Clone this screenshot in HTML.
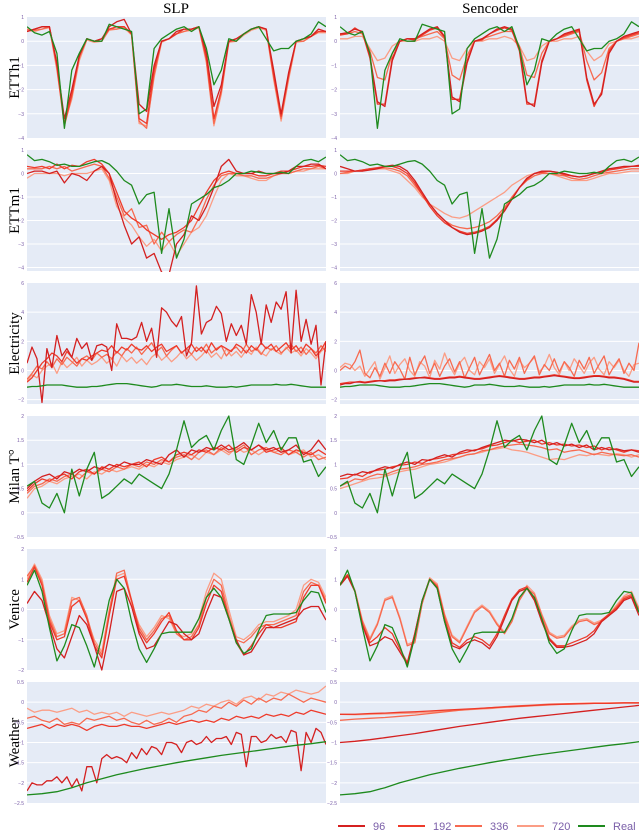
<!DOCTYPE html>
<html><head><meta charset="utf-8"><style>
body{margin:0;background:#fff;}
svg{display:block;font-family:"Liberation Serif",serif;}
</style></head><body>
<svg id="chart" width="640" height="831" viewBox="0 0 640 831" xmlns="http://www.w3.org/2000/svg">
<text x="176" y="13" text-anchor="middle" font-size="15">SLP</text>
<text x="490" y="13" text-anchor="middle" font-size="15">Sencoder</text>
<g id="panels"></g>
<g id="legend"></g>
</svg>
<script>
const horizons = ["96","192","336","720"];
const datasets = ["ETTh1","ETTm1","Electricity","Milan T°","Venice","Weather"];
const yRanges = [[-4,1],[-4.15,1],[-2.3,6],[-0.5,2],[-2,2],[-2.5,0.5]];
const yTicks = [[1,0,-1,-2,-3,-4],[1,0,-1,-2,-3,-4],[6,4,2,0,-2],[2,1.5,1,0.5,0,-0.5],[2,1,0,-1,-2],[0.5,0,-0.5,-1,-1.5,-2,-2.5]];
const yTickLabels = [["1","0","−1","−2","−3","−4"],["1","0","−1","−2","−3","−4"],["6","4","2","0","−2"],["2","1.5","1","0.5","0","−0.5"],["2","1","0","−1","−2"],["0.5","0","−0.5","−1","−1.5","−2","−2.5"]];

// ETTh1
const h1_real = [0.6,0.35,0.25,0.4,-0.5,-3.6,-1.2,-0.5,0.1,0.0,0.0,0.7,0.6,0.5,0.4,-3.0,-2.8,-0.3,0.1,0.3,0.5,0.6,0.4,0.6,-0.3,-1.8,-1.2,0.1,0.0,0.3,0.5,0.6,0.1,-0.4,-0.3,-0.3,0.0,0.1,0.3,0.8,0.6];
const h1_slp_96 = [0.4,0.5,0.6,0.6,-0.9,-3.2,-2.0,-0.6,0.1,0.0,0.1,0.6,0.8,0.9,0.3,-2.6,-2.9,-1.0,0.0,0.1,0.4,0.5,0.5,0.6,-0.5,-2.7,-1.8,0.0,0.1,0.3,0.5,0.6,0.5,-1.2,-3.0,-1.3,0.0,0.1,0.2,0.5,0.4];
const h1_slp_192 = [0.4,0.5,0.6,0.6,-1.0,-3.4,-2.2,-0.6,0.1,0.0,0.1,0.5,0.6,0.6,0.3,-3.2,-3.4,-1.2,0.0,0.1,0.3,0.5,0.5,0.6,-0.7,-3.2,-2.0,0.0,0.1,0.3,0.5,0.6,0.5,-1.4,-3.1,-1.4,0.0,0.1,0.2,0.4,0.4];
const h1_slp_336 = [0.5,0.45,0.5,0.6,-1.1,-3.5,-2.3,-0.7,0.1,0.0,0.0,0.5,0.5,0.6,0.3,-3.3,-3.6,-1.4,0.0,0.1,0.3,0.4,0.5,0.6,-0.8,-3.4,-2.1,0.0,0.0,0.3,0.5,0.6,0.5,-1.5,-3.2,-1.5,0.0,0.0,0.2,0.4,0.4];
const h1_slp_720 = [0.45,0.4,0.5,0.55,-1.2,-3.4,-2.4,-0.8,0.05,-0.05,0.0,0.45,0.5,0.55,0.25,-3.4,-3.5,-1.5,-0.05,0.1,0.3,0.4,0.45,0.55,-0.9,-3.5,-2.2,-0.05,0.0,0.25,0.45,0.55,0.45,-1.6,-3.3,-1.6,-0.05,0.0,0.2,0.35,0.35];
const h1_sen_96 = [0.3,0.35,0.5,0.4,-0.6,-2.5,-2.7,-0.8,0.0,0.1,0.1,0.3,0.5,0.6,0.2,-2.3,-2.5,-0.9,0.0,0.1,0.3,0.5,0.6,0.5,-0.3,-2.5,-2.7,-0.9,0.0,0.1,0.3,0.4,0.5,-1.5,-2.6,-2.2,-0.5,0.0,0.2,0.3,0.4];
const h1_sen_192 = [0.25,0.3,0.55,0.35,-0.7,-2.6,-2.6,-0.7,0.0,0.1,0.05,0.25,0.45,0.55,0.15,-2.4,-2.4,-0.8,0.0,0.05,0.3,0.45,0.55,0.45,-0.4,-2.6,-2.6,-0.8,0.0,0.1,0.25,0.35,0.45,-1.6,-2.7,-2.1,-0.4,0.0,0.15,0.25,0.35];
const h1_sen_336 = [0.3,0.3,0.4,0.3,-0.4,-1.5,-1.6,-0.5,0.0,0.1,0.1,0.2,0.3,0.4,0.1,-1.4,-1.6,-0.6,0.0,0.1,0.2,0.3,0.4,0.4,-0.2,-1.4,-1.5,-0.5,0.0,0.1,0.2,0.3,0.4,-0.8,-1.6,-1.3,-0.3,0.0,0.1,0.2,0.3];
const h1_sen_720 = [0.1,0.1,0.2,0.2,-0.3,-0.8,-0.7,-0.2,0.0,0.0,0.0,0.1,0.1,0.2,0.0,-0.7,-0.8,-0.3,0.0,0.0,0.1,0.1,0.2,0.1,-0.2,-0.8,-0.7,-0.2,0.0,0.0,0.1,0.1,0.2,-0.4,-0.8,-0.6,-0.1,0.0,0.1,0.1,0.2];

// ETTm1
const m1_real = [0.8,0.55,0.6,0.5,0.35,0.4,0.3,0.3,0.4,0.5,0.55,0.4,0.1,-0.3,-0.5,-1.3,-0.9,-0.8,-3.4,-1.5,-3.6,-2.8,-1.3,-1.1,-0.9,-0.6,-0.5,-0.3,0.0,0.0,0.1,0.05,0.0,0.0,0.05,0.0,0.3,0.55,0.6,0.5,0.7];
const m1_slp_96 = [0.0,0.1,0.1,0.0,0.1,-0.4,0.0,-0.1,-0.3,0.1,0.3,0.0,-1.2,-2.2,-3.0,-2.7,-3.6,-3.4,-4.2,-4.3,-3.0,-2.6,-1.8,-2.0,-1.4,-0.6,0.3,0.6,0.1,0.0,0.0,0.1,0.0,0.0,0.0,0.1,0.3,0.3,0.4,0.4,0.2];
const m1_slp_192 = [0.3,0.25,0.3,0.2,0.4,0.2,0.35,0.3,0.5,0.6,0.4,0.0,-0.8,-1.6,-1.9,-2.1,-2.4,-2.6,-2.8,-2.6,-2.5,-2.3,-2.0,-1.4,-0.8,-0.3,0.0,0.1,0.0,0.0,0.0,-0.1,-0.1,0.0,0.1,0.1,0.2,0.3,0.3,0.35,0.3];
const m1_slp_336 = [0.2,0.2,0.2,0.3,0.2,0.3,0.1,0.2,0.3,0.4,0.3,-0.2,-1.0,-1.8,-1.5,-2.3,-2.2,-3.0,-2.5,-2.9,-2.6,-2.4,-2.5,-1.9,-1.1,-0.5,-0.1,0.0,0.0,-0.1,-0.1,-0.2,-0.2,-0.1,0.0,0.0,0.1,0.2,0.2,0.3,0.2];
const m1_slp_720 = [-0.2,0.0,0.0,0.0,0.0,-0.1,0.0,0.0,0.0,0.1,0.2,-0.3,-1.4,-1.9,-2.2,-2.7,-3.1,-2.8,-3.3,-2.9,-3.5,-3.0,-2.5,-2.3,-1.8,-1.0,-0.3,0.0,-0.1,-0.1,-0.2,-0.3,-0.3,-0.1,0.0,0.0,0.1,0.1,0.2,0.2,0.2];
const m1_sen_96 = [0.3,0.2,0.1,0.1,0.15,0.2,0.3,0.35,0.3,0.1,-0.3,-0.8,-1.3,-1.7,-2.0,-2.3,-2.5,-2.6,-2.55,-2.45,-2.3,-2.0,-1.6,-1.1,-0.6,-0.2,0.0,0.1,0.1,0.05,0.0,-0.1,-0.15,-0.1,0.0,0.1,0.2,0.25,0.3,0.3,0.35];
const m1_sen_192 = [0.1,0.1,0.1,0.15,0.2,0.25,0.3,0.3,0.2,0.0,-0.4,-0.9,-1.4,-1.8,-2.1,-2.3,-2.45,-2.55,-2.5,-2.4,-2.25,-1.95,-1.55,-1.1,-0.6,-0.25,0.0,0.05,0.1,0.05,-0.05,-0.1,-0.15,-0.1,0.0,0.05,0.15,0.2,0.25,0.3,0.3];
const m1_sen_336 = [0.0,0.05,0.1,0.15,0.2,0.2,0.25,0.2,0.1,-0.1,-0.5,-0.9,-1.3,-1.7,-2.0,-2.2,-2.3,-2.35,-2.3,-2.2,-2.05,-1.8,-1.45,-1.0,-0.6,-0.3,-0.1,0.0,0.0,-0.05,-0.1,-0.2,-0.25,-0.2,-0.1,0.0,0.05,0.1,0.15,0.2,0.2];
const m1_sen_720 = [0.0,0.0,0.1,0.1,0.2,0.2,0.2,0.1,0.0,-0.3,-0.6,-1.0,-1.3,-1.5,-1.7,-1.85,-1.9,-1.8,-1.6,-1.4,-1.2,-1.0,-0.8,-0.5,-0.3,-0.1,0.0,0.05,0.0,-0.1,-0.2,-0.3,-0.3,-0.3,-0.2,-0.1,0.0,0.0,0.05,0.1,0.1];

// Electricity
const el_real = [-1.15,-1.1,-1.1,-1.05,-1.0,-1.0,-1.0,-1.0,-1.05,-1.1,-1.15,-1.15,-1.15,-1.1,-1.1,-1.05,-1.0,-0.95,-0.9,-0.9,-0.9,-0.95,-1.0,-1.05,-1.1,-1.15,-1.1,-1.0,-1.0,-1.0,-0.95,-1.0,-1.05,-1.1,-1.1,-1.1,-1.05,-1.1,-1.15,-1.15,-1.15,-1.1,-1.15,-1.1,-1.05,-1.0,-1.0,-1.0,-1.0,-1.0,-0.95,-1.0,-1.0,-0.95,-1.0,-1.05,-1.1,-1.15,-1.15,-1.15,-1.15];
const el_slp_96 = [0.5,1.6,0.8,-2.2,1.5,0.2,2.4,1.0,1.5,0.9,2.2,1.5,1.9,0.7,1.7,1.8,1.6,0.0,3.2,2.2,2.2,2.1,2.3,3.3,2.0,2.9,0.9,4.3,4.0,3.4,3.0,3.7,1.0,1.9,5.8,2.5,3.3,3.5,4.4,3.9,2.0,3.2,2.4,3.1,1.8,5.2,4.0,1.8,4.5,3.3,4.7,4.2,5.4,1.2,5.5,2.0,3.5,1.8,3.1,-1.0,2.0];
const el_slp_192 = [-0.8,-0.5,0.0,0.5,0.8,1.2,1.0,0.6,1.3,0.9,0.5,0.8,0.7,1.0,1.2,1.4,1.3,1.7,1.2,1.6,1.4,1.8,1.5,1.4,1.7,1.3,1.6,1.8,1.3,1.5,1.7,1.2,1.5,1.8,1.3,1.6,1.2,1.9,1.4,1.7,1.5,1.3,1.8,1.6,1.2,1.7,1.4,1.9,1.5,1.8,1.3,1.6,1.9,1.4,1.7,1.2,1.8,1.5,1.0,1.4,2.0];
const el_slp_336 = [-0.6,-0.2,0.3,0.1,0.6,0.2,0.8,0.4,0.9,0.6,0.3,0.8,1.0,0.7,1.2,0.9,1.1,0.8,1.3,1.0,1.5,1.2,1.6,1.1,1.5,1.9,1.3,1.6,1.0,1.4,1.7,1.2,1.5,1.1,1.6,1.3,1.8,1.2,1.5,1.7,1.0,1.4,1.6,1.2,1.8,1.3,1.5,1.1,1.6,1.4,1.7,1.2,1.5,1.8,1.3,1.6,1.1,1.5,1.2,1.7,1.3];
const el_slp_720 = [-0.7,-0.3,-0.5,0.0,0.3,0.5,-0.2,0.6,0.2,0.5,0.9,0.3,0.7,0.4,0.6,0.9,0.5,0.8,0.3,1.0,0.6,0.9,0.5,0.8,0.4,0.9,1.2,0.7,1.0,0.6,0.9,1.3,0.8,1.1,0.7,1.0,1.4,0.9,1.2,0.8,1.5,1.0,1.3,0.9,1.4,1.1,1.6,1.2,1.0,1.5,1.3,1.1,1.6,1.2,1.4,1.0,1.5,1.2,0.8,1.3,1.6];
const el_sen_96 = [-1.0,-0.9,-0.9,-0.8,-0.8,-0.85,-0.8,-0.75,-0.7,-0.75,-0.7,-0.7,-0.65,-0.6,-0.6,-0.55,-0.5,-0.5,-0.55,-0.6,-0.6,-0.55,-0.5,-0.5,-0.45,-0.5,-0.55,-0.6,-0.6,-0.55,-0.5,-0.45,-0.4,-0.45,-0.5,-0.55,-0.6,-0.6,-0.55,-0.5,-0.5,-0.45,-0.4,-0.35,-0.4,-0.45,-0.5,-0.55,-0.55,-0.5,-0.45,-0.4,-0.4,-0.45,-0.5,-0.5,-0.55,-0.6,-0.7,-0.8,-0.8];
const el_sen_192 = [-0.9,-0.85,-0.8,-0.8,-0.75,-0.8,-0.75,-0.7,-0.7,-0.7,-0.65,-0.65,-0.6,-0.6,-0.55,-0.5,-0.5,-0.45,-0.5,-0.55,-0.55,-0.5,-0.45,-0.45,-0.4,-0.45,-0.5,-0.55,-0.55,-0.5,-0.45,-0.4,-0.35,-0.4,-0.45,-0.5,-0.55,-0.55,-0.5,-0.45,-0.45,-0.4,-0.35,-0.3,-0.35,-0.4,-0.45,-0.5,-0.5,-0.45,-0.4,-0.35,-0.35,-0.4,-0.45,-0.45,-0.5,-0.55,-0.65,-0.75,-0.75];
const el_sen_336 = [0.0,0.3,0.1,0.6,1.4,-0.2,-0.5,0.2,-0.4,0.5,-0.2,0.6,0.1,-0.6,0.9,-0.3,0.4,1.0,-0.2,0.5,-0.4,0.3,0.8,-0.1,0.6,-0.5,0.2,0.9,-0.3,0.4,1.1,0.0,0.5,-0.4,0.7,0.1,0.9,-0.2,0.5,1.0,-0.3,0.4,0.0,0.8,-0.1,0.6,0.2,-0.4,0.7,0.1,0.9,-0.2,0.4,1.0,-0.3,0.3,0.8,-0.2,0.5,0.0,1.9];
const el_sen_720 = [0.2,0.5,0.4,0.0,0.3,-0.4,0.1,0.6,-0.6,0.2,1.0,-0.2,0.4,0.8,0.0,-0.4,0.6,0.3,-0.5,0.7,0.1,1.2,0.3,-0.3,0.5,0.9,0.0,-0.3,0.6,0.2,0.8,-0.2,0.4,1.0,0.1,-0.4,0.7,0.2,0.5,0.9,-0.1,0.3,1.1,0.2,-0.3,0.6,0.0,0.8,0.3,-0.2,0.5,0.9,0.1,-0.3,0.6,0.2,0.7,0.0,-0.4,0.4,0.5];

// Milan
const mi_real = [0.55,0.65,0.2,0.1,0.4,0.0,0.9,0.35,0.9,1.25,0.3,0.4,0.55,0.7,0.6,0.8,0.7,0.6,0.5,0.8,1.3,1.9,1.35,1.5,1.6,1.3,1.7,2.0,1.1,1.0,1.4,1.85,1.45,1.7,1.3,1.55,1.55,1.05,1.1,0.75,0.95];
const mi_slp_96 = [0.5,0.65,0.75,0.8,0.7,0.85,0.8,0.9,0.85,0.95,0.9,1.0,0.95,1.05,1.0,1.0,1.1,1.05,1.0,1.2,1.3,1.15,1.3,1.25,1.35,1.3,1.4,1.3,1.35,1.45,1.3,1.4,1.3,1.35,1.25,1.3,1.4,1.2,1.3,1.5,1.3];
const mi_slp_192 = [0.45,0.6,0.7,0.65,0.75,0.8,0.7,0.85,0.9,0.8,0.95,0.9,1.0,0.95,1.0,1.05,0.95,1.1,1.15,1.05,1.2,1.25,1.2,1.3,1.25,1.35,1.3,1.4,1.25,1.35,1.3,1.4,1.25,1.3,1.35,1.2,1.3,1.25,1.2,1.3,1.2];
const mi_slp_336 = [0.4,0.55,0.6,0.7,0.65,0.75,0.8,0.7,0.85,0.8,0.9,0.85,0.95,0.9,1.0,0.95,1.05,1.0,1.1,1.05,1.15,1.2,1.1,1.25,1.3,1.2,1.35,1.25,1.3,1.4,1.2,1.3,1.35,1.25,1.2,1.3,1.25,1.15,1.25,1.1,1.15];
const mi_slp_720 = [0.3,0.5,0.55,0.65,0.6,0.7,0.75,0.8,0.7,0.85,0.8,0.9,0.85,0.9,0.95,0.9,1.0,0.95,1.05,1.0,1.1,1.15,1.2,1.1,1.25,1.2,1.3,1.2,1.35,1.25,1.3,1.2,1.3,1.25,1.3,1.2,1.25,1.3,1.15,1.2,1.1];
const mi_sen_96 = [0.75,0.8,0.78,0.85,0.82,0.9,0.95,0.92,1.0,1.05,1.0,1.1,1.08,1.15,1.2,1.15,1.25,1.3,1.28,1.35,1.4,1.45,1.5,1.48,1.52,1.5,1.45,1.5,1.4,1.45,1.38,1.42,1.35,1.4,1.3,1.35,1.3,1.32,1.28,1.3,1.25];
const mi_sen_192 = [0.7,0.72,0.8,0.75,0.85,0.88,0.9,0.95,0.98,1.0,1.05,1.02,1.1,1.12,1.15,1.2,1.22,1.25,1.3,1.32,1.38,1.4,1.45,1.5,1.45,1.48,1.5,1.42,1.45,1.4,1.42,1.38,1.4,1.35,1.38,1.3,1.35,1.3,1.25,1.3,1.28];
const mi_sen_336 = [0.55,0.62,0.7,0.68,0.75,0.8,0.78,0.85,0.9,0.92,0.95,1.0,1.02,1.05,1.1,1.12,1.15,1.2,1.22,1.28,1.3,1.35,1.38,1.4,1.42,1.4,1.38,1.35,1.3,1.32,1.25,1.28,1.3,1.25,1.2,1.25,1.22,1.2,1.18,1.2,1.15];
const mi_sen_720 = [0.5,0.55,0.6,0.65,0.7,0.72,0.75,0.8,0.85,0.88,0.9,0.95,1.0,1.02,1.05,1.1,1.15,1.2,1.22,1.25,1.3,1.32,1.35,1.3,1.28,1.25,1.2,1.15,1.1,1.12,1.1,1.15,1.2,1.18,1.22,1.2,1.18,1.22,1.2,1.15,1.2];

// Venice
const ve_real = [0.8,1.3,0.6,-0.6,-1.7,-1.2,-0.5,-0.6,-1.2,-1.9,-0.9,0.3,1.0,0.7,-0.4,-1.3,-1.75,-1.3,-0.8,-0.75,-0.75,-0.75,-0.75,-0.3,0.4,0.7,0.4,-0.3,-1.1,-1.45,-1.3,-0.7,-0.2,-0.15,-0.15,-0.15,-0.1,0.3,0.6,0.55,-0.1];
const ve_slp_96 = [0.2,0.6,0.3,-0.5,-1.3,-1.6,-0.9,-0.2,-0.5,-1.2,-2.0,-0.8,0.6,0.7,0.1,-0.8,-1.3,-1.2,-0.8,-0.4,-0.5,-0.8,-1.0,-0.8,-0.1,0.5,0.4,-0.3,-1.0,-1.5,-1.4,-1.0,-0.6,-0.6,-0.5,-0.4,-0.3,0.0,0.1,0.1,-0.35];
const ve_slp_192 = [0.9,1.4,0.8,-0.4,-1.0,-0.9,0.1,0.3,-0.3,-1.2,-1.6,-0.2,1.0,1.1,0.3,-0.7,-1.1,-0.8,-0.4,-0.1,-0.7,-1.0,-1.0,-0.6,0.2,0.8,0.6,-0.3,-1.1,-1.5,-1.2,-0.8,-0.5,-0.6,-0.6,-0.5,-0.4,0.4,0.8,0.8,0.2];
const ve_slp_336 = [1.1,1.45,0.9,-0.3,-0.9,-0.8,0.3,0.4,-0.2,-1.1,-1.5,-0.1,1.2,1.3,0.3,-0.6,-1.0,-0.7,-0.3,-0.2,-0.8,-1.0,-0.9,-0.5,0.4,1.0,0.8,-0.2,-1.0,-1.1,-0.9,-0.6,-0.5,-0.5,-0.4,-0.3,-0.2,0.6,0.9,0.8,0.3];
const ve_slp_720 = [1.0,1.5,1.0,-0.2,-0.8,-0.7,0.4,0.3,-0.3,-1.0,-1.4,0.0,1.1,1.2,0.2,-0.5,-0.9,-0.6,-0.2,-0.3,-0.8,-0.9,-0.8,-0.3,0.6,1.2,1.0,0.0,-0.9,-1.0,-0.8,-0.5,-0.4,-0.4,-0.3,-0.2,0.0,0.8,1.0,0.9,0.4];
const ve_sen_96 = [0.8,1.1,0.6,-0.5,-1.2,-1.1,-0.9,-1.0,-1.4,-1.8,-0.8,0.3,1.0,0.7,-0.4,-1.2,-1.3,-1.1,-1.0,-1.1,-1.3,-0.9,-0.3,0.3,0.6,0.7,0.3,-0.4,-1.0,-1.25,-1.25,-1.2,-1.1,-1.0,-0.8,-0.4,-0.2,0.0,0.3,0.4,-0.2];
const ve_sen_192 = [0.85,1.15,0.6,-0.5,-1.1,-0.9,-0.6,-0.8,-1.3,-1.75,-0.8,0.3,1.0,0.75,-0.3,-1.1,-1.25,-1.0,-0.9,-1.0,-1.2,-0.8,-0.2,0.35,0.65,0.75,0.35,-0.3,-0.95,-1.2,-1.2,-1.1,-1.0,-0.9,-0.7,-0.35,-0.15,0.05,0.35,0.45,-0.1];
const ve_sen_336 = [0.8,1.1,0.6,-0.4,-1.0,-0.5,0.3,0.4,-0.3,-1.2,-1.1,0.2,1.0,0.8,-0.2,-0.9,-1.1,-0.6,-0.1,0.1,-0.1,-0.5,-0.8,-0.4,0.3,0.7,0.5,-0.2,-0.8,-0.95,-0.9,-0.6,-0.4,-0.35,-0.5,-0.4,-0.2,0.1,0.4,0.5,0.0];
const ve_sen_720 = [0.85,1.15,0.65,-0.35,-0.95,-0.45,0.35,0.45,-0.25,-1.15,-1.05,0.25,1.05,0.85,-0.15,-0.85,-1.05,-0.55,-0.05,0.15,-0.05,-0.45,-0.75,-0.35,0.35,0.8,0.55,-0.15,-0.75,-0.9,-0.85,-0.55,-0.35,-0.3,-0.45,-0.35,-0.15,0.15,0.45,0.6,0.05];

// Weather
const we_real = [-2.3,-2.27,-2.22,-2.12,-2.0,-1.9,-1.8,-1.72,-1.64,-1.57,-1.5,-1.44,-1.38,-1.32,-1.27,-1.22,-1.17,-1.12,-1.07,-1.03,-0.98];
const we_slp_96 = [-2.2,-2.0,-2.05,-2.05,-1.95,-1.95,-1.85,-2.0,-1.85,-2.1,-1.9,-2.2,-1.6,-1.6,-2.0,-1.4,-1.3,-1.4,-1.35,-1.4,-1.5,-1.25,-1.4,-1.15,-1.3,-1.1,-1.15,-1.3,-1.0,-1.0,-1.05,-1.25,-1.0,-0.95,-1.05,-1.0,-0.85,-1.0,-0.9,-0.9,-0.85,-1.05,-0.75,-0.8,-1.6,-0.85,-0.85,-1.0,-0.95,-0.8,-0.9,-0.85,-1.0,-0.7,-0.75,-1.7,-0.75,-1.0,-0.65,-0.75,-1.05];
const we_slp_192 = [-0.65,-0.6,-0.55,-0.65,-0.55,-0.6,-0.55,-0.6,-0.7,-0.6,-0.55,-0.6,-0.6,-0.55,-0.6,-0.6,-0.65,-0.6,-0.55,-0.5,-0.55,-0.5,-0.45,-0.5,-0.45,-0.5,-0.4,-0.45,-0.35,-0.4,-0.35,-0.4,-0.3,-0.35,-0.3,-0.35,-0.25,-0.3,-0.2,-0.25,-0.3];
const we_slp_336 = [-0.4,-0.35,-0.45,-0.5,-0.4,-0.55,-0.5,-0.55,-0.4,-0.45,-0.4,-0.35,-0.45,-0.4,-0.5,-0.55,-0.45,-0.55,-0.5,-0.4,-0.5,-0.35,-0.3,-0.2,-0.25,-0.1,-0.15,0.0,-0.1,0.05,-0.05,0.1,0.0,0.1,0.05,0.2,0.1,0.0,0.1,0.05,0.0];
const we_slp_720 = [-0.15,-0.25,-0.2,-0.2,-0.25,-0.2,-0.15,-0.25,-0.2,-0.3,-0.25,-0.3,-0.25,-0.35,-0.25,-0.3,-0.35,-0.3,-0.25,-0.3,-0.25,-0.2,-0.1,-0.15,-0.05,-0.1,0.0,0.05,-0.05,0.1,0.15,0.05,0.2,0.15,0.25,0.2,0.3,0.25,0.2,0.25,0.4];
const we_sen_96 = [-1.0,-0.97,-0.93,-0.88,-0.83,-0.78,-0.72,-0.66,-0.6,-0.55,-0.5,-0.45,-0.4,-0.36,-0.32,-0.28,-0.24,-0.2,-0.16,-0.12,-0.08];
const we_sen_192 = [-0.3,-0.3,-0.28,-0.27,-0.25,-0.24,-0.22,-0.2,-0.18,-0.16,-0.14,-0.12,-0.1,-0.08,-0.06,-0.05,-0.04,-0.03,-0.03,-0.02,-0.02];
const we_sen_336 = [-0.45,-0.42,-0.4,-0.38,-0.35,-0.32,-0.28,-0.24,-0.2,-0.17,-0.14,-0.11,-0.09,-0.07,-0.05,-0.04,-0.03,-0.02,-0.02,-0.01,-0.01];
const we_sen_720 = [-0.3,-0.31,-0.3,-0.29,-0.28,-0.27,-0.25,-0.23,-0.2,-0.18,-0.16,-0.13,-0.11,-0.09,-0.07,-0.05,-0.04,-0.03,-0.02,-0.02,-0.02];

const realSeries = [h1_real,m1_real,el_real,mi_real,ve_real,we_real];
const slpSeries = [[h1_slp_96,h1_slp_192,h1_slp_336,h1_slp_720],[m1_slp_96,m1_slp_192,m1_slp_336,m1_slp_720],[el_slp_96,el_slp_192,el_slp_336,el_slp_720],[mi_slp_96,mi_slp_192,mi_slp_336,mi_slp_720],[ve_slp_96,ve_slp_192,ve_slp_336,ve_slp_720],[we_slp_96,we_slp_192,we_slp_336,we_slp_720]];
const senSeries = [[h1_sen_96,h1_sen_192,h1_sen_336,h1_sen_720],[m1_sen_96,m1_sen_192,m1_sen_336,m1_sen_720],[el_sen_96,el_sen_192,el_sen_336,el_sen_720],[mi_sen_96,mi_sen_192,mi_sen_336,mi_sen_720],[ve_sen_96,ve_sen_192,ve_sen_336,ve_sen_720],[we_sen_96,we_sen_192,we_sen_336,we_sen_720]];

const NS="http://www.w3.org/2000/svg";
const colors=["#d42020","#ee3b2b","#f76a50","#fb9d85"];
const realColor="#1e8a1e";
const colX=[27,340], colW=[299,299];
const rowTop=[17,150,283,416,549,682], rowH=121;
const panels=document.getElementById('panels');
function mk(tag,attrs,parent){const e=document.createElementNS(NS,tag);for(const k in attrs)e.setAttribute(k,attrs[k]);parent.appendChild(e);return e;}
function slug(s){return s.toLowerCase().replace(/[^a-z0-9]+/g,'-').replace(/-$/,'');}

datasets.forEach((ds,r)=>{
  const lab=mk('text',{x:19,y:rowTop[r]+rowH/2,'text-anchor':'middle','font-size':15,transform:`rotate(-90 19 ${rowTop[r]+rowH/2})`},panels);
  
  
  lab.textContent=ds;
  [0,1].forEach(c=>{
    const g=mk('g',{},panels);
    
    
    const x0=colX[c], w=colW[c], y0=rowTop[r];
    const [lo,hi]=yRanges[r];
    const yS=v=>y0+(hi-v)/(hi-lo)*rowH;
    const bg=mk('rect',{x:x0,y:y0,width:w,height:rowH,fill:'#e5ebf6'},g);
    
    
    yTicks[r].forEach((t,i)=>{
      const yy=yS(t);
      if(yy>y0+1&&yy<y0+rowH-1){
        const gl=mk('line',{x1:x0,x2:x0+w,y1:yy,y2:yy,stroke:'#fff','stroke-width':1},g);
        
        
      }
      const tl=mk('text',{x:x0-3,y:yy+2,'text-anchor':'end','font-size':5,fill:'#7a5ea8','font-family':'Liberation Sans, sans-serif'},g);
      
      
      tl.textContent=yTickLabels[r][i];
    });
    const clipId='clip'+r+'_'+c;
    const cp=mk('clipPath',{id:clipId},g); mk('rect',{x:x0,y:y0-1,width:w,height:rowH+2},cp);
    const lines=mk('g',{'clip-path':`url(#${clipId})`},g);
    const draw=(arr,col,name)=>{
      const n=arr.length;
      const pts=arr.map((v,i)=>(x0+i/(n-1)*w).toFixed(1)+','+yS(v).toFixed(1)).join(' ');
      const pl=mk('polyline',{points:pts,fill:'none',stroke:col,'stroke-width':1.3,'stroke-linejoin':'round'},lines);
      
      
    };
    const ser=c?senSeries[r]:slpSeries[r];
    for(let k=3;k>=0;k--) draw(ser[k],colors[k],'series-'+horizons[k]);
    draw(realSeries[r],realColor,'series-real');
  });
});

const legend=document.getElementById('legend');
const legItems=[["96",colors[0],338],["192",colors[1],398],["336",colors[2],455],["720",colors[3],517],["Real",realColor,578]];
legItems.forEach(([t,col,x])=>{
  const g=mk('g',{},legend);
  
  
  mk('line',{x1:x,x2:x+27,y1:826,y2:826,stroke:col,'stroke-width':2},g);
  const tx=mk('text',{x:x+35,y:830,'font-size':11,fill:'#7a5ea8','font-family':'Liberation Sans, sans-serif'},g);
  tx.textContent=t;
});
</script>
</body></html>
